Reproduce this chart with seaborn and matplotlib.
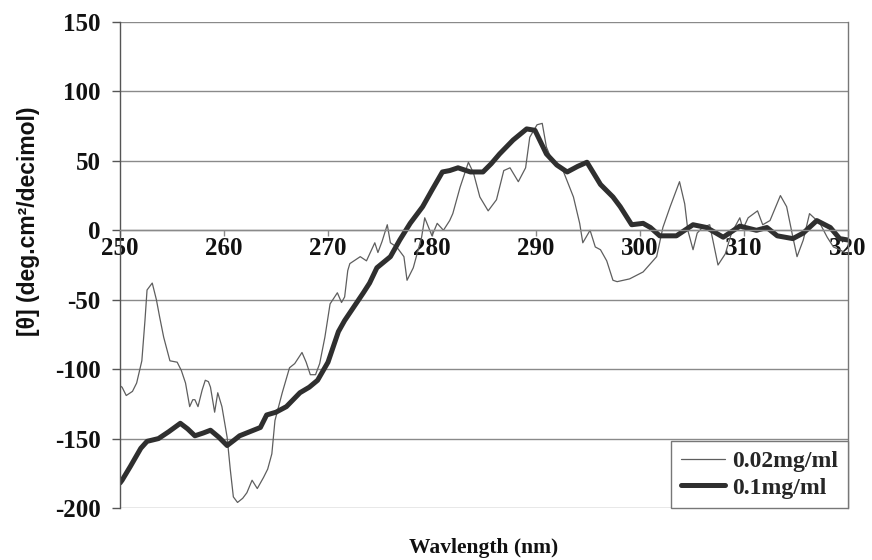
import numpy as np
import pandas as pd
import matplotlib
matplotlib.use("Agg")
import matplotlib.pyplot as plt
import seaborn as sns
from matplotlib.lines import Line2D

# ---- data ----
wl_thin = [250.0, 250.2, 250.6, 251.2, 251.6, 252.1, 252.4, 252.6, 253.1, 253.5, 253.8, 254.2,
           254.8, 255.5, 255.9, 256.3, 256.7, 257.0, 257.2, 257.5, 257.9, 258.2, 258.5, 258.7,
           259.1, 259.4, 259.8, 260.3, 260.6, 260.9, 261.3, 261.8, 262.2, 262.7, 263.2, 263.8,
           264.2, 264.6, 264.9, 265.6, 266.3, 266.8, 267.5, 267.9, 268.3, 268.8, 269.2, 269.7,
           270.2, 270.9, 271.3, 271.6, 271.9, 272.1, 273.1, 273.7, 274.5, 274.8, 275.2, 275.7,
           276.0, 276.6, 277.3, 277.6, 278.2, 279.0, 279.3, 280.0, 280.5, 281.1, 281.7, 282.0,
           282.7, 283.5, 284.0, 284.6, 285.4, 286.2, 286.9, 287.5, 288.3, 289.0, 289.4, 290.1,
           290.6, 291.0, 291.6, 292.6, 293.6, 294.2, 294.5, 295.2, 295.7, 296.2, 296.8, 297.4,
           297.8, 298.4, 299.0, 300.3, 301.6, 302.2, 302.9, 303.8, 304.3, 304.6, 305.1, 305.5,
           306.0, 306.7, 307.5, 308.2, 308.8, 309.6, 309.9, 310.4, 311.3, 311.8, 312.5, 313.5,
           314.1, 314.7, 315.1, 315.7, 316.3, 317.3, 318.0, 318.6, 319.2, 319.9]
theta_thin = [-112, -113, -119, -116, -110, -94, -65, -43, -38, -50, -62, -77,
              -94, -95, -101, -110, -127, -122, -122, -127, -115, -108, -109, -113,
              -131, -117, -127, -149, -172, -192, -196, -193, -189, -180, -186, -178,
              -172, -161, -137, -117, -99, -96, -88, -95, -104, -104, -96, -77,
              -53, -45, -52, -48, -29, -24, -19, -22, -9, -16, -8, 4,
              -9, -12, -19, -36, -27, -5, 9, -4, 5, 0, 7, 12,
              31, 49, 41, 24, 14, 22, 43, 45, 35, 45, 67, 76,
              77, 60, 49, 43, 24, 5, -9, 0, -12, -14, -22, -36,
              -37, -36, -35, -30, -19, 2, 17, 35, 19, 0, -14, -2,
              2, 4, -25, -17, -2, 9, 1, 9, 14, 4, 7, 25,
              17, -5, -19, -7, 12, 5, -5, -12, -14, -17]

wl_thick = [250.0, 250.2, 251.0, 252.0, 252.6, 253.7, 254.7, 255.8, 256.5, 257.2, 258.0, 258.7,
            259.5, 260.3, 261.0, 261.5, 262.5, 263.5, 264.1, 265.0, 266.0, 267.3, 268.2, 269.0,
            270.0, 271.0, 271.6, 272.5, 273.4, 274.0, 274.7, 276.0, 276.9, 277.9, 279.1, 280.0,
            281.0, 281.7, 282.5, 283.7, 284.9, 285.7, 286.5, 287.8, 289.1, 289.9, 291.0, 292.0,
            293.0, 294.0, 294.9, 296.2, 297.4, 298.1, 299.2, 300.3, 301.0, 301.9, 303.5, 305.1,
            306.4, 308.0, 309.6, 311.2, 312.2, 313.2, 314.7, 315.7, 317.0, 318.3, 319.2, 320.0]
theta_thick = [-182, -180, -170, -157, -152, -150, -145, -139, -143, -148, -146, -144,
               -149, -155, -151, -148, -145, -142, -133, -131, -127, -117, -113, -108,
               -95, -73, -65, -55, -45, -38, -27, -19, -7, 5, 17, 29,
               42, 43, 45, 42, 42, 48, 55, 65, 73, 72, 55, 47,
               42, 46, 49, 33, 24, 17, 4, 5, 2, -4, -4, 4,
               2, -5, 3, 0, 2, -4, -6, -2, 7, 2, -6, -7]

series_labels = ["0.02mg/ml", "0.1mg/ml"]
x_ticks = [250, 260, 270, 280, 290, 300, 310, 320]
y_ticks = [-200, -150, -100, -50, 0, 50, 100, 150]

df = pd.concat([
    pd.DataFrame({"wl": wl_thin, "theta": theta_thin, "conc": series_labels[0]}),
    pd.DataFrame({"wl": wl_thick, "theta": theta_thick, "conc": series_labels[1]}),
], ignore_index=True)

sns.set_style("white")
plt.rcParams["font.family"] = ["Liberation Serif", "DejaVu Serif"]
plt.rcParams["axes.unicode_minus"] = False

fig = plt.figure(figsize=(8.72, 5.6), dpi=100)
ax = fig.add_axes([120 / 872, 1 - 508 / 560, 728 / 872, 486 / 560])

sns.lineplot(data=df, x="wl", y="theta", hue="conc", size="conc",
             sizes={series_labels[0]: 0.9, series_labels[1]: 3.6},
             palette={series_labels[0]: "#5e5e5e", series_labels[1]: "#2f2f2f"},
             estimator=None, sort=False, ax=ax, legend=False)

ax.set_xlim(250, 320)
ax.set_ylim(-200, 150)
ax.set_xticks(x_ticks)
ax.set_yticks(y_ticks)

gray = "#8a8a8a"
for yv in y_ticks:
    ax.axhline(yv, color=gray, lw=1.0, zorder=0.5)

ax.spines["top"].set_visible(False)
ax.spines["bottom"].set_position(("data", 0))
ax.spines["bottom"].set_color(gray)
ax.spines["bottom"].set_linewidth(1.0)
ax.spines["left"].set_color("#555555")
ax.spines["left"].set_linewidth(1.0)
ax.spines["right"].set_color("#777777")
ax.spines["right"].set_linewidth(1.0)

ax.tick_params(axis="y", direction="out", length=6, width=1, color="#555555", pad=8,
               left=True, labelsize=18)
ax.tick_params(axis="x", direction="out", length=4, width=1, color=gray, pad=1,
               bottom=True, labelsize=18)
for lab in ax.get_xticklabels() + ax.get_yticklabels():
    lab.set_fontweight("bold")
    lab.set_color("#111111")

ax.set_xlabel("Wavlength (nm)", fontsize=15.5, fontweight="bold", color="#111111")
ax.xaxis.set_label_coords(0.5, -0.062)
ax.set_ylabel("[θ] (deg.cm²/decimol)", fontsize=16.5, fontweight="bold", color="#111111",
              family=["Liberation Sans", "DejaVu Sans"])
ax.yaxis.set_label_coords(-0.11, 0.59)

handles = [Line2D([], [], color="#5e5e5e", lw=0.9), Line2D([], [], color="#2f2f2f", lw=3.6)]
leg = ax.legend(handles, series_labels, loc="lower right", borderaxespad=0,
                frameon=True, fancybox=False, framealpha=1, edgecolor="#777777",
                prop={"family": "Liberation Serif", "weight": "bold", "size": 17},
                handlelength=1.9, handletextpad=0.3, borderpad=0.4, labelspacing=0.22)
leg.get_frame().set_linewidth(1.0)

fig.savefig("out.png", dpi=100)
